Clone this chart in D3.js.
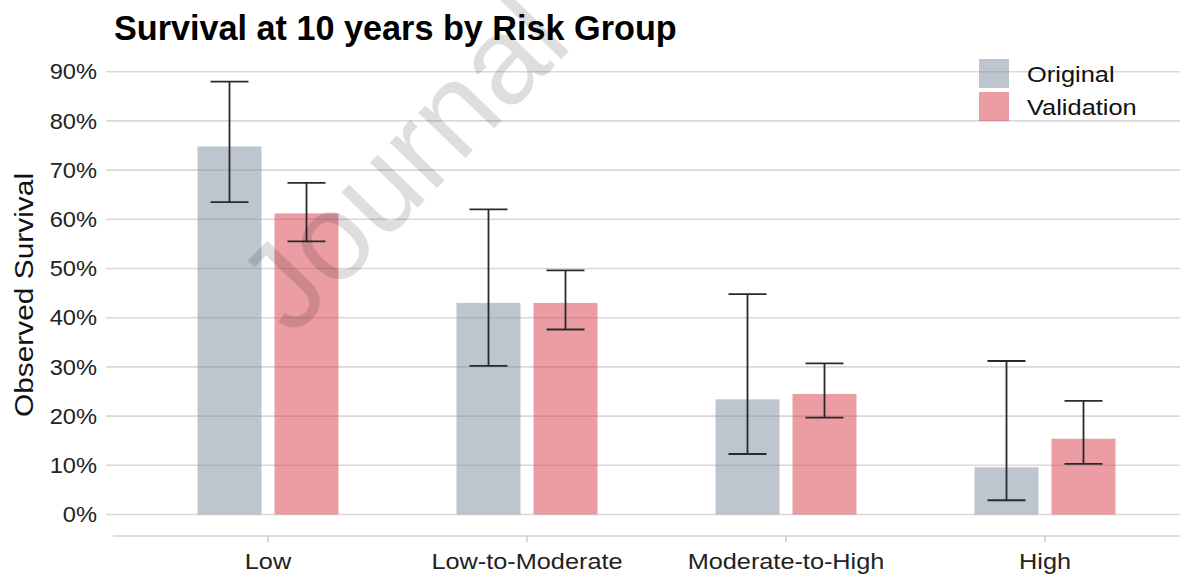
<!DOCTYPE html>
<html><head><meta charset="utf-8">
<script src="https://cdn.jsdelivr.net/npm/d3@7"></script>
<style>html,body{margin:0;padding:0;background:#fff;}svg{display:block;font-family:"Liberation Sans",Arial,sans-serif;}</style>
</head><body>
<svg id="chart" width="1192" height="579"></svg>
<script>
const categories = ["Low", "Low-to-Moderate", "Moderate-to-High", "High"];
const seriesNames = ["Original", "Validation"];
const originalValues = [0.748, 0.430, 0.234, 0.096];
const originalLower  = [0.635, 0.302, 0.123, 0.029];
const originalUpper  = [0.880, 0.620, 0.448, 0.312];
const validationValues = [0.612, 0.430, 0.245, 0.154];
const validationLower  = [0.555, 0.376, 0.197, 0.103];
const validationUpper  = [0.674, 0.496, 0.307, 0.231];
const yTicks = [0, 0.1, 0.2, 0.3, 0.4, 0.5, 0.6, 0.7, 0.8, 0.9];
const title = "Survival at 10 years by Risk Group";
const yTitle = "Observed Survival";
const watermark = "Journal";
const colors = {Original: "#7b8d9d", Validation: "#d73b48"};

const rows = [];
categories.forEach((c, i) => {
  rows.push({cat: c, series: "Original", v: originalValues[i], lo: originalLower[i], hi: originalUpper[i]});
  rows.push({cat: c, series: "Validation", v: validationValues[i], lo: validationLower[i], hi: validationUpper[i]});
});

const svg = d3.select("#chart");
const x = d3.scalePoint().domain(categories).range([268, 1045]);
const xs = d3.scaleBand().domain(seriesNames).range([-70.5, 70.5]).paddingInner(0.169);
const y = d3.scaleLinear().domain([0, 0.9]).range([514.5, 71.7]);

// gridlines
svg.append("g").selectAll("line").data(yTicks).join("line")
  .attr("x1", 106).attr("x2", 1180)
  .attr("y1", d => y(d)).attr("y2", d => y(d))
  .attr("stroke", "#d9d9d9").attr("stroke-width", 1.6);

// y tick labels
svg.append("g").selectAll("text").data(yTicks).join("text")
  .attr("transform", d => `translate(97,${y(d)}) scale(1.1,1)`)
  .attr("dy", "0.36em")
  .attr("text-anchor", "end").attr("font-size", 21.5).attr("fill", "#222")
  .text(d => d3.format(".0%")(d));

// bars
svg.append("g").selectAll("rect").data(rows).join("rect")
  .attr("x", d => x(d.cat) + xs(d.series))
  .attr("width", xs.bandwidth())
  .attr("y", d => y(d.v))
  .attr("height", d => y(0) - y(d.v))
  .attr("fill", d => colors[d.series]).attr("fill-opacity", 0.5);

// error bars
const eb = svg.append("g").attr("stroke", "#2a2a2a").attr("stroke-width", 1.8);
rows.forEach(d => {
  const cx = x(d.cat) + xs(d.series) + xs.bandwidth() / 2;
  eb.append("line").attr("x1", cx).attr("x2", cx).attr("y1", y(d.lo)).attr("y2", y(d.hi));
  eb.append("line").attr("x1", cx - 19).attr("x2", cx + 19).attr("y1", y(d.lo)).attr("y2", y(d.lo));
  eb.append("line").attr("x1", cx - 19).attr("x2", cx + 19).attr("y1", y(d.hi)).attr("y2", y(d.hi));
});

// x axis (offset)
const xAxis = svg.append("g");
xAxis.append("line").attr("x1", 113).attr("x2", 1180).attr("y1", 536).attr("y2", 536)
  .attr("stroke", "#d0d0d0").attr("stroke-width", 1.6);
xAxis.selectAll("line.tick").data(categories).join("line").attr("class", "tick")
  .attr("x1", d => x(d)).attr("x2", d => x(d)).attr("y1", 536).attr("y2", 542)
  .attr("stroke", "#c8c8c8").attr("stroke-width", 1.4);
xAxis.selectAll("text").data(categories).join("text")
  .attr("transform", d => `translate(${x(d)},569) scale(1.15,1)`)
  .attr("text-anchor", "middle")
  .attr("font-size", 22).attr("fill", "#222").text(d => d);

// y title
svg.append("text").attr("transform", "translate(33,295) rotate(-90) scale(1.15,1)")
  .attr("text-anchor", "middle").attr("font-size", 26).attr("fill", "#111").text(yTitle);

// title
const t = svg.append("text").attr("x", 114).attr("y", 40)
  .attr("font-size", 31).attr("font-weight", "bold").attr("fill", "#000").text(title);
const w = t.node().getComputedTextLength();
t.attr("font-size", 31 * 563 / w);

// legend
const lg = svg.append("g");
seriesNames.forEach((s, i) => {
  lg.append("rect").attr("x", 979).attr("y", 59 + i * 33).attr("width", 30).attr("height", 29)
    .attr("fill", colors[s]).attr("fill-opacity", 0.5);
  lg.append("text").attr("transform", `translate(1027,${74 + i * 33}) scale(1.13,1)`).attr("dy", "0.36em")
    .attr("font-size", 22.5).attr("fill", "#111").text(s);
});

// watermark
svg.append("text").attr("transform", "translate(292,338) rotate(-46)")
  .attr("font-size", 124).attr("fill", "#000").attr("fill-opacity", 0.13)
  .text(watermark);
</script>
</body></html>
